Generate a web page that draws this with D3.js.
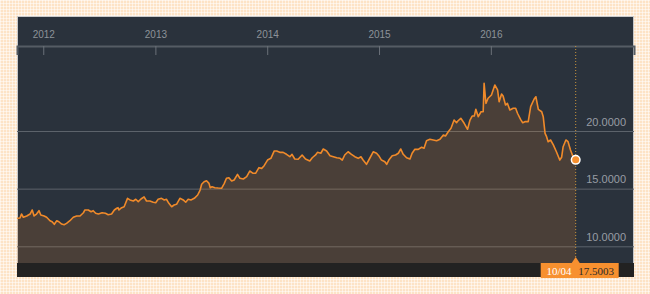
<!DOCTYPE html>
<html>
<head>
<meta charset="utf-8">
<script src="https://cdnjs.cloudflare.com/ajax/libs/d3/7.8.5/d3.min.js"></script>
<style>
    body {
        margin: 0;
        background-color: #fde3c6;
        background-image: linear-gradient(rgba(255,255,255,0.5) 1px, transparent 1px),
            linear-gradient(90deg, rgba(255,255,255,0.5) 1px, transparent 1px);
        background-size: 3px 3px;
    }
    svg { display: block; }
</style>
</head>
<body>
<svg id="chart" width="650" height="294"></svg>
<script>
var dates = [
    "2011-10-04","2011-10-17","2011-10-22","2011-10-28","2011-11-08","2011-11-19","2011-11-26","2011-12-02",
    "2011-12-10","2011-12-18","2011-12-24","2012-01-04","2012-01-12","2012-01-23","2012-01-30","2012-02-06",
    "2012-02-14","2012-02-21","2012-03-01","2012-03-09","2012-03-17","2012-03-28","2012-04-08","2012-04-19",
    "2012-04-30","2012-05-11","2012-05-16","2012-05-27","2012-06-05","2012-06-12","2012-06-20","2012-06-29",
    "2012-07-11","2012-07-22","2012-07-31","2012-08-11","2012-08-20","2012-08-28","2012-09-01","2012-09-04",
    "2012-09-13","2012-09-21","2012-10-02","2012-10-10","2012-10-21","2012-10-29","2012-11-06","2012-11-15",
    "2012-11-25","2012-12-03","2012-12-14","2012-12-25","2013-01-02","2013-01-10","2013-01-21","2013-01-30",
    "2013-02-06","2013-02-14","2013-02-23","2013-03-03","2013-03-11","2013-03-22","2013-04-02","2013-04-10",
    "2013-04-18","2013-04-27","2013-05-08","2013-05-19","2013-05-27","2013-06-01","2013-06-09","2013-06-17",
    "2013-06-25","2013-06-29","2013-07-05","2013-07-14","2013-07-25","2013-08-05","2013-08-14","2013-08-21",
    "2013-08-29","2013-09-07","2013-09-15","2013-09-26","2013-10-04","2013-10-15","2013-10-26","2013-11-05",
    "2013-11-16","2013-11-24","2013-12-05","2013-12-14","2013-12-22","2014-01-02","2014-01-13","2014-01-24",
    "2014-02-01","2014-02-11","2014-02-22","2014-03-05","2014-03-16","2014-03-23","2014-04-01","2014-04-12",
    "2014-04-25","2014-05-06","2014-05-20","2014-05-28","2014-06-08","2014-06-14","2014-06-25","2014-07-03",
    "2014-07-14","2014-07-25","2014-08-05","2014-08-16","2014-08-27","2014-09-03","2014-09-11","2014-09-22",
    "2014-10-03","2014-10-14","2014-10-25","2014-11-03","2014-11-10","2014-11-21","2014-11-30","2014-12-13",
    "2014-12-24","2014-12-31","2015-01-09","2015-01-20","2015-01-26","2015-02-02","2015-02-13","2015-02-24",
    "2015-03-05","2015-03-13","2015-03-21","2015-04-01","2015-04-12","2015-04-19","2015-04-28","2015-05-09",
    "2015-05-20","2015-05-28","2015-06-05","2015-06-16","2015-06-27","2015-07-08","2015-07-19","2015-07-30",
    "2015-08-06","2015-08-15","2015-08-24","2015-09-03","2015-09-11","2015-09-16","2015-09-25","2015-10-06",
    "2015-10-17","2015-10-25","2015-11-01","2015-11-08","2015-11-13","2015-11-21","2015-11-30","2015-12-07",
    "2015-12-10","2015-12-16","2015-12-23","2016-01-03","2016-01-14","2016-01-23","2016-01-28","2016-02-05",
    "2016-02-10","2016-02-18","2016-02-24","2016-03-03","2016-03-14","2016-03-22","2016-03-28","2016-04-07",
    "2016-04-14","2016-04-21","2016-05-02","2016-05-10","2016-05-21","2016-05-27","2016-06-04","2016-06-15",
    "2016-06-20","2016-06-26","2016-07-01","2016-07-06","2016-07-14","2016-07-23","2016-08-02","2016-08-13",
    "2016-08-19","2016-08-24","2016-09-02","2016-09-09","2016-09-17","2016-09-26","2016-10-04"
];

var values = [
    12.43, 12.45, 12.80, 12.52, 12.63, 12.80, 13.15, 12.63,
    12.80, 13.09, 12.71, 12.63, 12.52, 12.22, 12.13, 11.91,
    12.22, 12.13, 11.93, 11.87, 11.99, 12.22, 12.52, 12.63,
    12.63, 12.91, 13.15, 13.15, 13.00, 13.09, 12.86, 12.80,
    12.91, 12.86, 12.74, 12.80, 13.15, 13.30, 13.35, 13.15,
    13.35, 13.43, 14.16, 14.02, 13.93, 14.08, 13.87, 14.10,
    14.28, 13.93, 13.93, 13.82, 13.78, 14.08, 14.16, 14.02,
    14.08, 13.73, 13.43, 13.58, 13.64, 14.16, 14.02, 13.82,
    14.08, 14.02, 14.16, 14.45, 14.88, 15.38, 15.60, 15.69,
    15.46, 15.08, 15.17, 15.08, 15.05, 15.03, 15.46, 15.90,
    15.95, 15.66, 15.75, 16.24, 15.90, 15.84, 16.04, 16.53,
    16.33, 16.33, 16.82, 16.76, 16.99, 17.48, 17.63, 18.27,
    18.27, 18.15, 18.15, 17.98, 17.77, 17.98, 17.57, 17.55,
    17.92, 17.57, 17.40, 17.68, 17.92, 18.15, 18.07, 18.44,
    18.27, 17.86, 17.77, 17.68, 17.63, 17.48, 17.92, 18.20,
    17.98, 17.77, 17.63, 17.77, 17.48, 17.11, 17.55, 18.20,
    18.07, 17.86, 17.48, 17.34, 17.11, 17.48, 17.86, 17.92,
    18.07, 18.44, 17.98, 17.68, 17.57, 18.07, 18.41, 18.41,
    18.59, 18.50, 19.16, 19.28, 19.22, 19.16, 19.28, 19.65,
    19.57, 19.94, 20.23, 20.95, 20.72, 20.89, 21.10, 20.67,
    20.15, 20.95, 21.30, 21.30, 21.88, 21.24, 21.67, 21.67,
    24.14, 22.40, 22.84, 23.12, 23.99, 23.56, 22.54, 23.21,
    23.04, 22.25, 22.40, 21.82, 21.97, 21.97, 21.54, 21.01,
    20.72, 20.81, 20.81, 22.11, 22.75, 22.97, 21.88, 21.67,
    21.24, 19.80, 19.51, 19.07, 19.22, 18.79, 18.20, 17.48,
    17.72, 18.64, 19.22, 19.07, 18.35, 17.72, 17.5003
];

var yearTicks = ["2012", "2013", "2014", "2015", "2016"];
var gridValues = [10, 15, 20];
var lastDateLabel = "10/04";
var lastValueLabel = "17.5003";

(function() {

    var parseDate = d3.timeParse("%Y-%m-%d");
    var data = dates.map(function(d, i) {
        return { date: parseDate(d), value: values[i] };
    });
    var last = data[data.length - 1];

    // panel box
    var left = 17, right = 634, top = 16, bottom = 277;
    var headerBottom = 46, plotBottom = 263;

    var svg = d3.select("#chart");

    var x = d3.scaleTime()
        .domain([data[0].date, last.date])
        .range([16, 575.7]);

    var y = d3.scaleLinear()
        .domain([10, 20])
        .range([246.3, 131]);

    svg.append("defs").append("clipPath")
        .attr("id", "plotclip")
        .append("rect")
        .attr("x", left).attr("y", headerBottom)
        .attr("width", right - left).attr("height", plotBottom - headerBottom);

    svg.append("rect")
        .attr("x", left + 0.5).attr("y", top + 0.5)
        .attr("width", right - left - 1).attr("height", bottom - top - 1)
        .attr("fill", "#2a323c")
        .attr("stroke", "#c9c9c9");

    /* gridlines with value labels */
    var grid = svg.append("g")
        .attr("transform", "translate(" + left + ",0)")
        .call(d3.axisRight(y)
            .tickValues(gridValues)
            .tickSize(right - left)
            .tickFormat(d3.format(".4f")));
    grid.select(".domain").remove();
    grid.selectAll("line")
        .attr("stroke", "#5c636b")
        .attr("stroke-width", 1);
    grid.selectAll("text")
        .attr("x", 609)
        .attr("dy", -6)
        .attr("text-anchor", "end")
        .attr("fill", "#989da4")
        .style("font-family", "'Liberation Sans', Arial, sans-serif")
        .style("font-size", "11px");

    var area = d3.area()
        .x(function(d) { return x(d.date); })
        .y0(plotBottom)
        .y1(function(d) { return y(d.value); });

    var line = d3.line()
        .x(function(d) { return x(d.date); })
        .y(function(d) { return y(d.value); });

    var plot = svg.append("g").attr("clip-path", "url(#plotclip)");

    plot.append("path")
        .datum(data)
        .attr("d", area)
        .attr("fill", "#f08a24")
        .attr("fill-opacity", 0.16);

    plot.append("path")
        .datum(data)
        .attr("d", line)
        .attr("fill", "none")
        .attr("stroke", "#f08a2a")
        .attr("stroke-width", 1.6)
        .attr("stroke-linejoin", "round");

    // year axis on top, ticks hang down into the plot
    var xAxisScale = x.copy()
        .domain([x.invert(left), x.invert(right)])
        .range([left, right]);

    var xAxis = svg.append("g")
        .attr("transform", "translate(0," + headerBottom + ")")
        .call(d3.axisTop(xAxisScale)
            .tickValues(yearTicks.map(function(t) { return new Date(+t, 0, 1); }))
            .tickFormat(d3.timeFormat("%Y"))
            .tickSizeInner(-9)
            .tickSizeOuter(-9)
            .tickPadding(8));
    xAxis.select(".domain")
        .attr("stroke", "#555c64")
        .attr("stroke-width", 2);
    xAxis.selectAll(".tick line")
        .attr("stroke", "#6a7078");
    xAxis.selectAll("text")
        .attr("fill", "#8d9299")
        .style("font-family", "'Liberation Sans', Arial, sans-serif")
        .style("font-size", "10px");

    // bottom bar
    svg.append("rect")
        .attr("x", left).attr("y", plotBottom)
        .attr("width", right - left).attr("height", bottom - plotBottom)
        .attr("fill", "#222222");

    var lx = x(last.date), ly = y(last.value);

    svg.append("line")
        .attr("x1", lx).attr("x2", lx)
        .attr("y1", headerBottom).attr("y2", plotBottom - 6)
        .attr("stroke", "#c9963e")
        .attr("stroke-dasharray", "1,2");

    svg.append("rect")
        .attr("x", 540.7).attr("y", plotBottom)
        .attr("width", 78).attr("height", 15)
        .attr("fill", "#f7902f");

    svg.append("path")
        .attr("d", "M" + (lx - 4) + "," + plotBottom + "L" + lx + "," + (plotBottom - 6) + "L" + (lx + 4) + "," + plotBottom + "Z")
        .attr("fill", "#f7902f");

    svg.append("text")
        .attr("x", 559).attr("y", 274.5)
        .attr("text-anchor", "middle")
        .attr("fill", "#ffffff")
        .style("font-family", "'Liberation Serif', 'Times New Roman', serif")
        .style("font-size", "11px")
        .text(lastDateLabel);

    svg.append("text")
        .attr("x", 596).attr("y", 274.5)
        .attr("text-anchor", "middle")
        .attr("fill", "#2b2b2b")
        .style("font-family", "'Liberation Serif', 'Times New Roman', serif")
        .style("font-size", "11px")
        .text(lastValueLabel);

    svg.append("circle")
        .attr("cx", lx).attr("cy", ly)
        .attr("r", 4.3)
        .attr("fill", "#f7902f")
        .attr("stroke", "#ffffff")
        .attr("stroke-width", 1.5);

})();
</script>
</body>
</html>
